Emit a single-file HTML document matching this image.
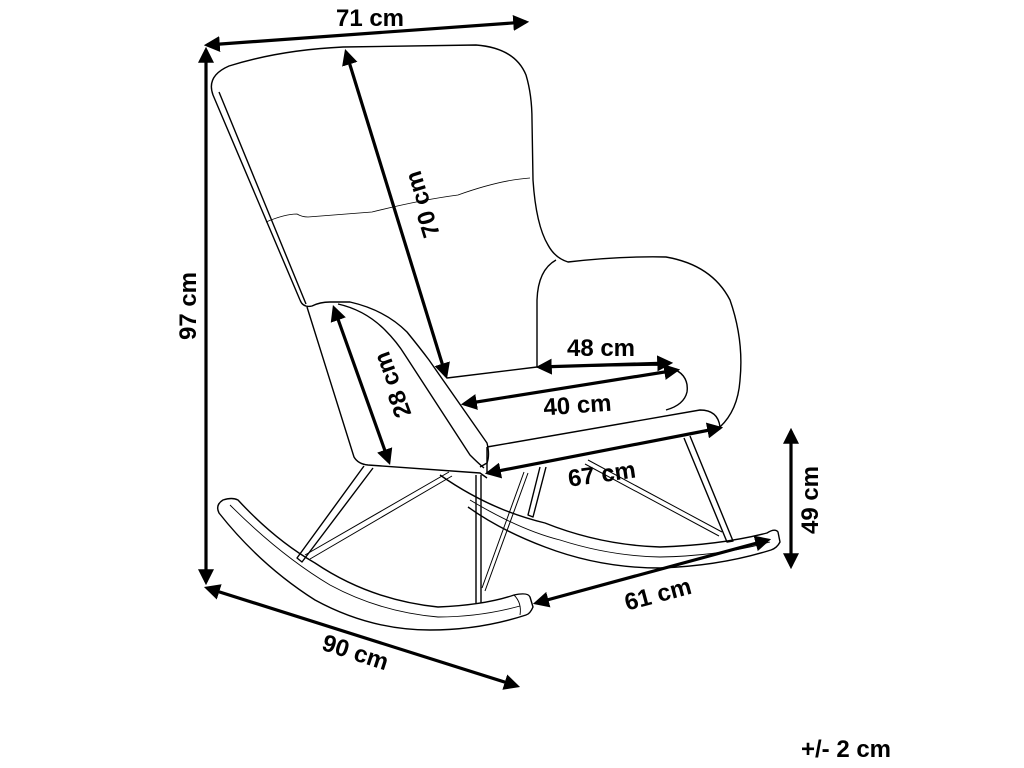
<!DOCTYPE html>
<html><head><meta charset="utf-8"><style>
html,body{margin:0;padding:0;background:#fff;width:1024px;height:768px;overflow:hidden}
svg{display:block}
text{font-family:"Liberation Sans",sans-serif;font-weight:bold;font-size:24px;fill:#000}
</style></head><body>
<svg width="1024" height="768" viewBox="0 0 1024 768" xmlns="http://www.w3.org/2000/svg">
<defs>
<marker id="a" viewBox="0 0 10 10" refX="8" refY="5" markerWidth="5" markerHeight="5" orient="auto-start-reverse" markerUnits="strokeWidth">
<path d="M0,0 L10,5 L0,10 z" fill="#000"/></marker>
</defs>
<g fill="none" stroke="#000" stroke-width="1.4" stroke-linejoin="round">
<path d="M300,300 L213,95 Q206,76 229,66 Q280,50 343,47 L476,45 Q515,48 526,75 Q532,95 532,120 L533,180 Q536,225 548,245 Q555,258 568,262 Q620,256 666,257 Q712,265 730,300 Q744,340 740,380 Q738,410 720,427"/>
<path d="M219,92 L306,304"/>
<path d="M300,300 Q303,308 312,306 Q320,302 330,302 L350,302 Q385,310 407,332 Q420,348 429,360 L487,443 Q490,455 487,463 L480,467"/>
<path d="M338,304 Q365,310 385,330 Q397,342 405,355 L470,455 Q478,463 484,468"/>
<path d="M307,307 L354,457 Q358,464 368,465 L480,473 L487,478"/>
<path d="M266,222 Q285,214 297,214 Q302,217 308,217 L372,212 Q420,200 458,195 Q500,180 530,178" stroke-width="0.8"/>
<path d="M447,378 L537,367"/>
<path d="M537,367 L537,300 Q538,270 556,260"/>
<path d="M537,367 L660,365 Q690,370 687,392 Q684,405 666,410"/>
<path d="M487,447 L700,410 Q718,410 720,427"/>
<path d="M487,447 L487,473"/>
<path d="M223,500 Q232,497 238,500 Q275,540 315,563 Q370,600 438,607 Q485,605 514,595 Q528,592 530,597 L533,607 Q530,614 526,615 Q480,630 430,630 Q370,630 315,600 Q260,565 219,513 Q215,505 223,500 z"/>
<path d="M230,505 Q280,555 330,585 Q380,612 438,617 Q480,617 520,606" stroke-width="0.9"/>
<path d="M514,595 Q522,603 520,615" stroke-width="0.9"/>
<path d="M440,475 Q490,510 545,523 Q600,545 660,547 Q720,545 767,533 Q775,528 778,532 L780,542 Q777,548 771,550 Q720,566 660,568 Q600,568 545,547 Q500,530 468,507"/>
<path d="M470,500 Q520,530 560,540 Q610,556 660,557 Q720,556 770,542" stroke-width="0.9"/>
<path d="M364,466 L297,558 L302,562 L373,468"/>
<path d="M449,472 L305,555 M452,476 L310,559" stroke-width="1"/>
<path d="M476,475 L476,603 M481,475 L481,603"/>
<path d="M524,472 L482,588 M528,473 L485,591" stroke-width="1"/>
<path d="M540,467 L528,515 L533,517 L546,467"/>
<path d="M684,438 L727,542 L733,541 L690,436"/>
<path d="M588,460 L722,532 M585,464 L719,536" stroke-width="1"/>
</g>
<g stroke="#000" stroke-width="3.2" fill="none">
<line x1="207" y1="45" x2="526" y2="22" marker-start="url(#a)" marker-end="url(#a)"/>
<line x1="206" y1="50" x2="206" y2="582" marker-start="url(#a)" marker-end="url(#a)"/>
<line x1="346" y1="52" x2="446" y2="376" marker-start="url(#a)" marker-end="url(#a)"/>
<line x1="334" y1="308" x2="389" y2="462" marker-start="url(#a)" marker-end="url(#a)"/>
<line x1="539" y1="367" x2="670" y2="363" marker-start="url(#a)" marker-end="url(#a)"/>
<line x1="464" y1="404" x2="677" y2="370" marker-start="url(#a)" marker-end="url(#a)"/>
<line x1="488" y1="473" x2="720" y2="428" marker-start="url(#a)" marker-end="url(#a)"/>
<line x1="791" y1="431" x2="791" y2="566" marker-start="url(#a)" marker-end="url(#a)"/>
<line x1="536" y1="603" x2="768" y2="540" marker-start="url(#a)" marker-end="url(#a)"/>
<line x1="207" y1="588" x2="517" y2="686" marker-start="url(#a)" marker-end="url(#a)"/>
</g>
<text x="370" y="26" text-anchor="middle">71 cm</text>
<text transform="translate(196,306) rotate(-90)" text-anchor="middle">97 cm</text>
<text transform="translate(430,202) rotate(-107)" text-anchor="middle">70 cm</text>
<text transform="translate(400,382) rotate(-110)" text-anchor="middle">28 cm</text>
<text x="601" y="356" text-anchor="middle">48 cm</text>
<text transform="translate(578,413) rotate(-4)" text-anchor="middle">40 cm</text>
<text transform="translate(603,482) rotate(-8)" text-anchor="middle">67 cm</text>
<text transform="translate(818,500) rotate(-90)" text-anchor="middle">49 cm</text>
<text transform="translate(660,602) rotate(-15)" text-anchor="middle">61 cm</text>
<text transform="translate(353,660) rotate(18)" text-anchor="middle">90 cm</text>
<text x="846" y="757" text-anchor="middle">+/- 2 cm</text>
</svg>
</body></html>
